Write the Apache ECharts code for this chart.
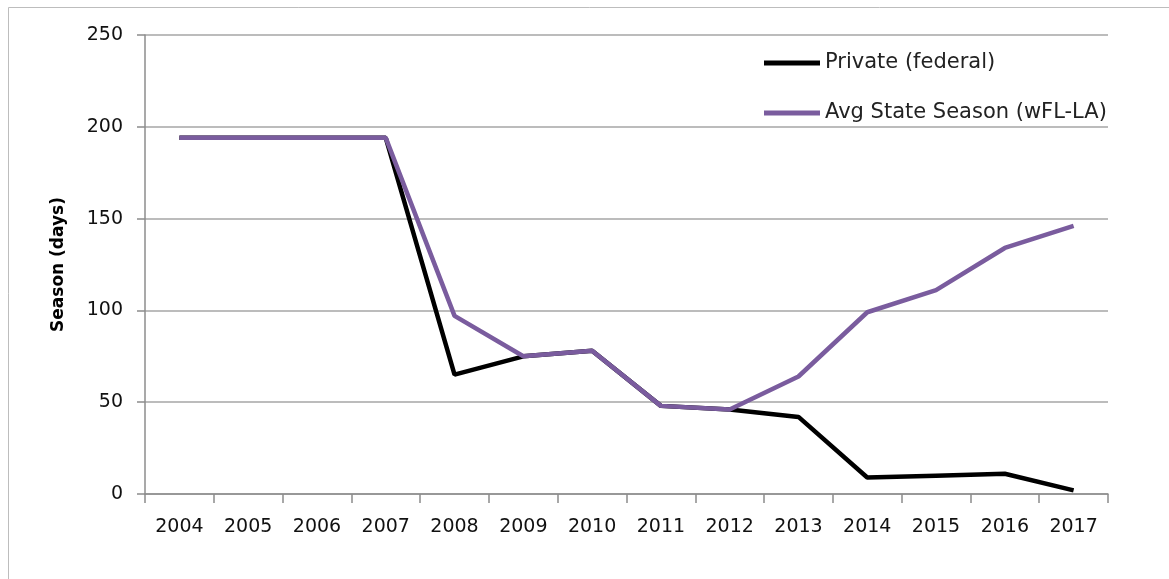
<!DOCTYPE html>
<html>
<head>
<meta charset="utf-8">
<script src="https://cdn.jsdelivr.net/npm/echarts@6/dist/echarts.min.js"></script>
<style>
html,body{margin:0;padding:0;background:#fff;}
#chart{width:1169px;height:579px;}
</style>
</head>
<body>
<div id="chart"></div>
<script>
const years = ['2004','2005','2006','2007','2008','2009','2010','2011','2012','2013','2014','2015','2016','2017'];
const privateFederal = [194,194,194,194,65,75,78,48,46,42,9,10,11,2];
const avgStateSeason = [194,194,194,194,97,75,78,48,46,64,99,111,134,146];
const seriesNames = ['Private (federal)','Avg State Season (wFL-LA)'];
const yTicks = {min:0, max:250, interval:50};

const FONT = 'DejaVu Sans';
const BLACK = '#000000', PURPLE = '#7A5C9E';
const chart = echarts.init(document.getElementById('chart'), null, {renderer:'canvas'});
chart.setOption({
  animation:false,
  backgroundColor:'#fff',
  graphic:[{type:'rect', shape:{x:8.5,y:7.5,width:1170,height:600}, style:{fill:'none', stroke:'#BDBDBD', lineWidth:1}, silent:true}],
  grid:{left:145, right:61, top:35, bottom:85},
  legend:{
    orient:'vertical', left:764, top:52, padding:0, itemWidth:56, itemHeight:5, itemGap:28,
    textStyle:{fontFamily:FONT, fontSize:21, color:'#222', lineHeight:22},
    data:[{name:seriesNames[0], icon:'rect', itemStyle:{color:BLACK}},
          {name:seriesNames[1], icon:'rect', itemStyle:{color:PURPLE}}]
  },
  xAxis:{
    type:'category', data:years, boundaryGap:true,
    axisLine:{lineStyle:{color:'#8C8C8C', width:1.5}},
    axisTick:{show:true, length:9, interval:0, lineStyle:{color:'#8C8C8C', width:1.5}},
    axisLabel:{fontFamily:FONT, fontSize:19, color:'#111', margin:24, interval:0},
    splitLine:{show:false}
  },
  yAxis:{
    type:'value', min:yTicks.min, max:yTicks.max, interval:yTicks.interval,
    name:'Season (days)', nameLocation:'middle', nameGap:78,
    nameTextStyle:{fontFamily:FONT, fontSize:17, fontWeight:'bold', color:'#000'},
    axisLine:{show:true, lineStyle:{color:'#8C8C8C', width:1.5}},
    axisTick:{show:true, length:8, lineStyle:{color:'#8C8C8C', width:1.5}},
    axisLabel:{fontFamily:FONT, fontSize:19, color:'#111', margin:22},
    splitLine:{show:true, lineStyle:{color:'#A6A6A6', width:1.5}}
  },
  series:[
    {name:seriesNames[0], type:'line', data:privateFederal, symbol:'none', showSymbol:false,
     lineStyle:{color:BLACK, width:4.5}, itemStyle:{color:BLACK}, z:2},
    {name:seriesNames[1], type:'line', data:avgStateSeason, symbol:'none', showSymbol:false,
     lineStyle:{color:PURPLE, width:4.5}, itemStyle:{color:PURPLE}, z:3}
  ]
});
</script>
</body>
</html>
